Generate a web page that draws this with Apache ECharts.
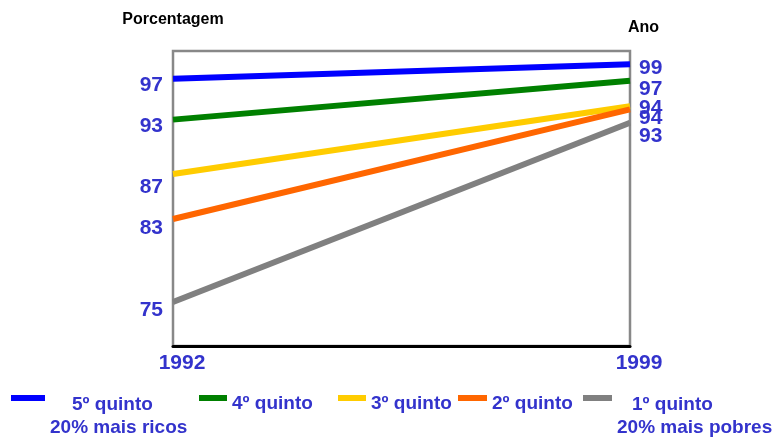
<!DOCTYPE html>
<html>
<head>
<meta charset="utf-8">
<script src="https://cdn.jsdelivr.net/npm/echarts@6/dist/echarts.min.js"></script>
<style>
  html, body { margin: 0; padding: 0; background: #fff; }
  #chart { width: 775px; height: 439px; }
</style>
</head>
<body>
<div id="chart"></div>
<script>
// anos
const years = ['1992', '1999']

// percentuais por quinto de renda
const quinto5 = [97.6, 99.0]
const quinto4 = [93.6, 97.4]
const quinto3 = [88.3, 94.9]
const quinto2 = [83.9, 94.6]
const quinto1 = [75.8, 93.3]

const yTickLabels = [75, 83, 87, 93, 97]
const endLabels = ['99', '97', '94', '94', '93']

const names = ['5º quinto', '4º quinto', '3º quinto', '2º quinto', '1º quinto']
const subNames = ['20% mais ricos', '', '', '', '20% mais pobres']

const font = 'Liberation Sans, Arial, sans-serif'
const blue = '#3333cc'

const colors = ['#0000ff', '#008000', '#ffcc00', '#ff6600', '#808080']
const values = [quinto5, quinto4, quinto3, quinto2, quinto1]
const labelOffsets = [[0, 4], [0, 8], [0, 2], [0, 9], [0, 14]]

// posicao da legenda (a = recuo da primeira linha)
const legendPos = [
  { left: 11, top: 357, w: 34, a: 22 },
  { left: 199, top: 380.5, w: 28 },
  { left: 338, top: 380.5, w: 28 },
  { left: 458, top: 380.5, w: 29 },
  { left: 583, top: 357, w: 29, a: 15 }
]

const legText = { color: blue, fontFamily: font, fontWeight: 'bold', fontSize: 19, lineHeight: 23 }

const chart = echarts.init(document.getElementById('chart'))

const option = {
  animation: false,
  grid: {
    left: 173, right: 145, top: 51, bottom: 93,
    show: true, borderColor: '#888', borderWidth: 2.5
  },
  legend: names.map((n, i) => {
    const p = legendPos[i]
    const two = subNames[i] !== ''
    return {
      left: p.left, top: p.top, padding: 0,
      selectedMode: false,
      icon: 'rect', itemWidth: p.w, itemHeight: 6,
      data: [n],
      formatter: two ? name => '{a|' + name + '}\n{c|' + subNames[i] + '}' : name => '{c|' + name + '}',
      textStyle: Object.assign({}, legText, {
        padding: two ? [36, 0, 0, 0] : [12, 0, 0, 0],
        rich: {
          a: Object.assign({ align: 'left', padding: [0, 0, 0, p.a || 0] }, legText),
          c: Object.assign({}, legText)
        }
      })
    }
  }),
  xAxis: {
    type: 'category',
    data: years,
    boundaryGap: false,
    axisLine: { lineStyle: { color: '#000', width: 3 } },
    axisTick: { show: false },
    axisLabel: {
      color: blue, fontFamily: font, fontWeight: 'bold', fontSize: 21,
      margin: 7, padding: [0, 0, 0, 18]
    }
  },
  yAxis: [
    {
      type: 'value',
      min: 71.5, max: 100.3,
      name: 'Porcentagem',
      nameGap: 23,
      nameTextStyle: { color: '#000', fontFamily: font, fontWeight: 'bold', fontSize: 16 },
      axisLine: { show: false },
      axisTick: { show: false },
      splitLine: { show: false },
      axisLabel: {
        customValues: yTickLabels,
        color: blue, fontFamily: font, fontWeight: 'bold', fontSize: 21,
        margin: 10
      }
    },
    {
      type: 'value',
      position: 'right',
      min: 71.5, max: 100.3,
      name: 'Ano',
      nameGap: 15,
      nameTextStyle: { color: '#000', fontFamily: font, fontWeight: 'bold', fontSize: 16, align: 'left', padding: [0, 0, 0, -2] },
      axisLine: { show: false },
      axisTick: { show: false },
      splitLine: { show: false },
      axisLabel: { show: false }
    }
  ],
  series: names.map((n, i) => ({
    name: n,
    type: 'line',
    data: values[i],
    showSymbol: false,
    itemStyle: { color: colors[i] },
    lineStyle: { color: colors[i], width: 6 },
    endLabel: {
      show: true,
      formatter: () => endLabels[i],
      distance: 9,
      offset: labelOffsets[i],
      color: blue, fontFamily: font, fontWeight: 'bold', fontSize: 21
    }
  }))
}

chart.setOption(option)
</script>
</body>
</html>
